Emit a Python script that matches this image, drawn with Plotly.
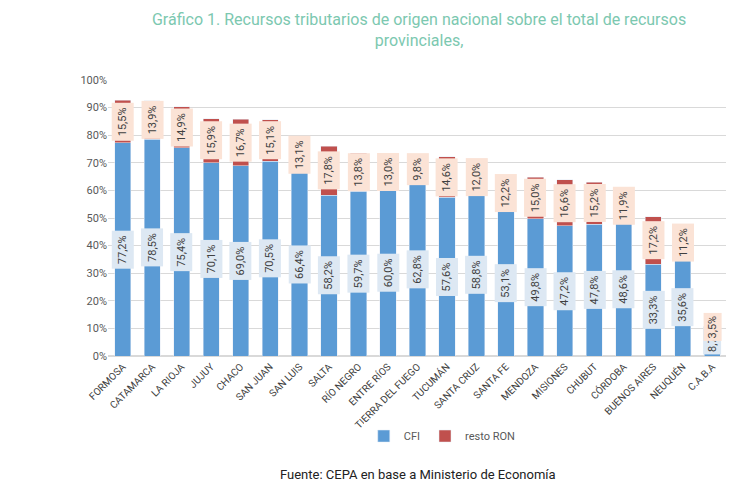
import plotly.graph_objects as go

provincias = ["FORMOSA","CATAMARCA","LA RIOJA","JUJUY","CHACO","SAN JUAN","SAN LUIS","SALTA","RÍO NEGRO","ENTRE RÍOS","TIERRA DEL FUEGO","TUCUMÁN","SANTA CRUZ","SANTA FE","MENDOZA","MISIONES","CHUBUT","CÓRDOBA","BUENOS AIRES","NEUQUÉN","C.A.B.A"]
cfi = [77.2,78.5,75.4,70.1,69.0,70.5,66.4,58.2,59.7,60.0,62.8,57.6,58.8,53.1,49.8,47.2,47.8,48.6,33.3,35.6,8.7]
resto_ron = [15.5,13.9,14.9,15.9,16.7,15.1,13.1,17.8,13.8,13.0,9.8,14.6,12.0,12.2,15.0,16.6,15.2,11.9,17.2,11.2,3.5]

def fmt(v):
    return f"{v:.1f}%".replace(".", ",")

fig = go.Figure()
fig.add_bar(x=provincias, y=[v/100 for v in cfi], name="CFI", marker_color="#5b9bd5")
fig.add_bar(x=provincias, y=[v/100 for v in resto_ron], name="resto RON", marker_color="#c0504d")

ann = []
for p, c, r in zip(provincias, cfi, resto_ron):
    ann.append(dict(x=p, y=c/200 if c > 15 else 0.003, yanchor="middle" if c > 15 else "bottom", text=fmt(c), textangle=-90, showarrow=False,
                    bgcolor="#dde8f3", font=dict(size=11, color="#404040"), borderpad=4 if c > 15 else 2))
    ann.append(dict(x=p, y=(c + r/2)/100, text=fmt(r), textangle=-90, showarrow=False,
                    bgcolor="#fbe3d6", font=dict(size=11, color="#404040"), borderpad=4 if r > 8 else 2))
ann.append(dict(x=0.5, y=-0.43, xref="paper", yref="paper", showarrow=False, yanchor="middle",
                text="Fuente: CEPA en base a Ministerio de Economía", font=dict(size=13, color="#222")))

fig.update_layout(
    barmode="stack", bargap=0.45, width=734, height=490,
    paper_bgcolor="white", plot_bgcolor="white",
    font=dict(family="Roboto", color="#595959"),
    title=dict(text="Gráfico 1. Recursos tributarios de origen nacional sobre el total de recursos<br>provinciales,",
               x=0.56, xanchor="center", y=0.965, font=dict(size=16, color="#7cc8b0")),
    margin=dict(l=100, r=15, t=80, b=134),
    legend=dict(orientation="h", x=0.54, xanchor="center", y=-0.29, yanchor="middle",
                traceorder="normal", font=dict(size=11)),
    annotations=ann,
)
fig.update_layout(margin=dict(l=100, r=15, t=72, b=142))
fig.update_yaxes(range=[0, 1.0], tickformat=".0%", dtick=0.1, gridcolor="#d9d9d9", tickfont=dict(size=11),
                 showline=False, zeroline=True, zerolinecolor="#d9d9d9")
fig.update_xaxes(tickangle=-45, tickfont=dict(size=10, color="#404040"), showline=True, linecolor="#d9d9d9")
fig.write_html("out.html")
